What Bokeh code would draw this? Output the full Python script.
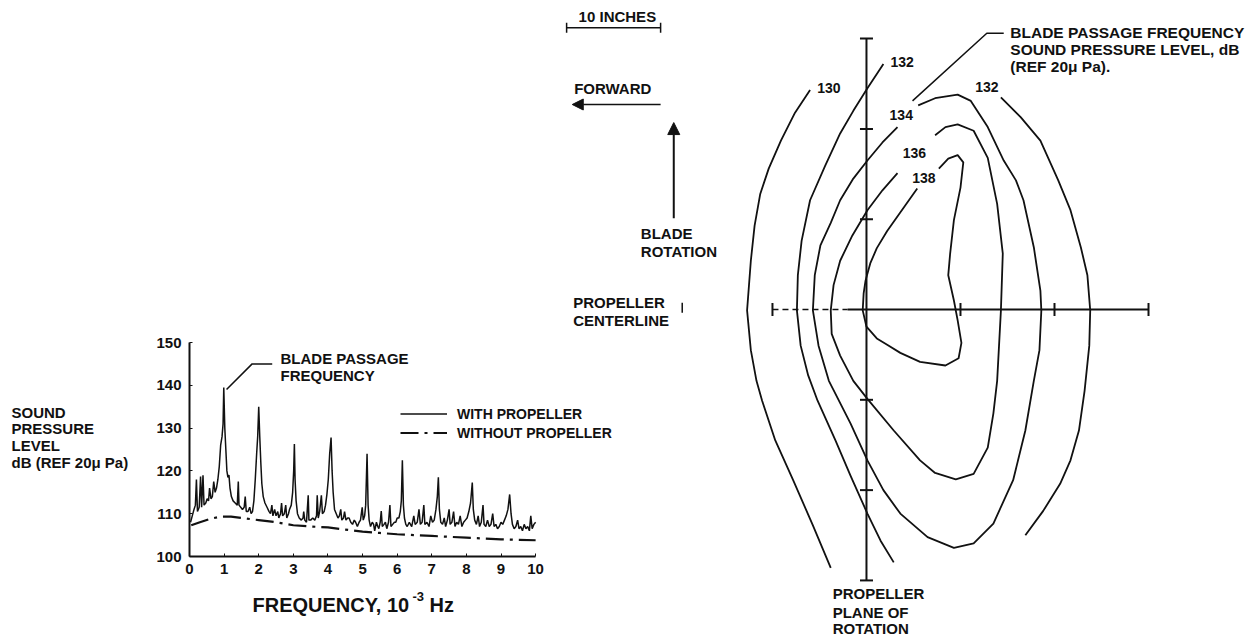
import math
from bokeh.plotting import figure
from bokeh.models import (Range1d, Label, Legend, LegendItem, Arrow, NormalHead,
                          ColumnDataSource, FixedTicker)
from bokeh.layouts import row, column
from bokeh.core.properties import value
from bokeh.embed import file_html
from bokeh.resources import INLINE

FONT = "Liberation Sans"
INK = "#111111"

# ---------------- spectrum (left panel) ----------------
x_ticks = [0, 1, 2, 3, 4, 5, 6, 7, 8, 9, 10]
y_ticks = [100, 110, 120, 130, 140, 150]

# (frequency 10^-3 Hz, SPL dB)
with_propeller = [
    (0.03, 108.0), (0.08, 109.5), (0.13, 111.0), (0.17, 112.0), (0.20, 118.0), (0.23, 110.5),
    (0.28, 111.5), (0.32, 118.7), (0.35, 111.5), (0.39, 119.0), (0.42, 112.0), (0.47, 112.5),
    (0.51, 113.5), (0.55, 113.0), (0.58, 116.0), (0.62, 113.5), (0.66, 114.0), (0.70, 117.5),
    (0.74, 115.0), (0.78, 116.0), (0.82, 118.0), (0.86, 121.0), (0.90, 126.0), (0.94, 128.0),
    (0.97, 131.0), (0.99, 139.5), (1.02, 130.0), (1.05, 125.0), (1.08, 120.0), (1.11, 118.5),
    (1.14, 119.0), (1.17, 116.0), (1.21, 114.0), (1.26, 113.0), (1.32, 112.5), (1.38, 112.0),
    (1.41, 117.5), (1.43, 112.0), (1.48, 111.5), (1.53, 111.0), (1.58, 111.5), (1.61, 114.0),
    (1.64, 110.5), (1.69, 110.5), (1.74, 111.5), (1.78, 110.0), (1.82, 110.5), (1.86, 113.0),
    (1.90, 118.0), (1.94, 124.0), (1.97, 128.0), (2.00, 135.0), (2.03, 128.0), (2.06, 122.0),
    (2.09, 117.0), (2.13, 114.0), (2.18, 112.5), (2.24, 111.5), (2.30, 110.5), (2.34, 110.0),
    (2.38, 112.0), (2.41, 109.5), (2.46, 111.0), (2.50, 109.5), (2.55, 110.5), (2.58, 109.0),
    (2.63, 110.0), (2.66, 112.5), (2.69, 109.5), (2.74, 110.0), (2.78, 112.0), (2.81, 109.0),
    (2.86, 110.0), (2.89, 111.0), (2.94, 112.0), (2.98, 115.0), (3.01, 120.0), (3.03, 126.3),
    (3.05, 118.0), (3.08, 113.0), (3.12, 110.0), (3.17, 109.0), (3.23, 108.5), (3.28, 109.0),
    (3.30, 110.5), (3.33, 108.5), (3.38, 108.0), (3.43, 114.3), (3.45, 108.5), (3.50, 108.5),
    (3.56, 109.0), (3.62, 108.5), (3.67, 109.5), (3.69, 114.3), (3.72, 109.0), (3.76, 110.5),
    (3.81, 114.3), (3.84, 110.0), (3.89, 110.5), (3.93, 112.0), (3.97, 114.5), (4.01, 118.0),
    (4.05, 124.0), (4.09, 127.8), (4.12, 120.0), (4.15, 115.0), (4.19, 111.0), (4.24, 110.0),
    (4.29, 109.0), (4.33, 109.5), (4.37, 111.0), (4.40, 108.5), (4.45, 109.0), (4.48, 110.5),
    (4.52, 108.5), (4.57, 109.0), (4.61, 109.0), (4.66, 108.0), (4.71, 107.5), (4.76, 108.5),
    (4.80, 108.0), (4.85, 107.0), (4.90, 108.0), (4.94, 108.5), (4.99, 111.5), (5.02, 108.5),
    (5.06, 109.5), (5.09, 112.0), (5.13, 124.0), (5.16, 112.0), (5.19, 108.5), (5.23, 107.0),
    (5.28, 108.0), (5.32, 107.5), (5.35, 106.0), (5.40, 108.0), (5.44, 107.0), (5.47, 106.5),
    (5.51, 108.0), (5.54, 110.6), (5.57, 107.0), (5.62, 107.5), (5.66, 108.0), (5.70, 106.5),
    (5.75, 108.0), (5.79, 112.0), (5.82, 107.0), (5.87, 107.5), (5.92, 108.0), (5.96, 108.0),
    (6.00, 109.0), (6.05, 109.0), (6.09, 110.5), (6.12, 113.0), (6.15, 122.5), (6.18, 112.0),
    (6.21, 109.0), (6.25, 107.5), (6.29, 107.0), (6.35, 108.0), (6.42, 107.0), (6.48, 109.5),
    (6.52, 107.5), (6.58, 108.0), (6.63, 111.0), (6.67, 107.5), (6.72, 108.0), (6.77, 112.0),
    (6.80, 107.5), (6.86, 108.0), (6.92, 107.0), (6.97, 109.5), (7.02, 108.0), (7.07, 108.5),
    (7.12, 111.0), (7.16, 114.0), (7.19, 118.5), (7.22, 111.0), (7.26, 108.0), (7.31, 107.5),
    (7.36, 109.0), (7.40, 107.0), (7.45, 108.5), (7.50, 111.0), (7.53, 107.5), (7.58, 108.0),
    (7.63, 110.5), (7.67, 107.0), (7.72, 108.0), (7.77, 107.5), (7.82, 109.5), (7.87, 107.0),
    (7.92, 108.0), (7.97, 108.5), (8.02, 109.0), (8.07, 110.5), (8.12, 112.5), (8.17, 117.3),
    (8.20, 111.0), (8.24, 108.5), (8.29, 107.5), (8.34, 109.5), (8.38, 107.0), (8.43, 108.0),
    (8.48, 112.0), (8.51, 107.5), (8.56, 107.0), (8.61, 108.5), (8.66, 107.0), (8.71, 107.5),
    (8.76, 110.0), (8.80, 107.0), (8.85, 107.5), (8.90, 106.5), (8.95, 107.0), (9.00, 108.0),
    (9.05, 107.5), (9.10, 108.5), (9.15, 109.5), (9.20, 111.0), (9.25, 114.5), (9.29, 110.0),
    (9.33, 107.5), (9.38, 106.5), (9.43, 107.0), (9.48, 108.5), (9.52, 106.5), (9.57, 107.0),
    (9.62, 106.0), (9.67, 107.5), (9.72, 106.5), (9.77, 107.0), (9.82, 106.0), (9.86, 109.5),
    (9.90, 106.5), (9.95, 107.5), (10.0, 108.0),
]
without_propeller = [
    (0.05, 107.3), (0.3, 108.0), (0.6, 108.8), (0.9, 109.3), (1.2, 109.3), (1.5, 109.0),
    (2.0, 108.5), (2.5, 108.0), (3.0, 107.3), (3.5, 107.0), (4.0, 106.8), (4.5, 106.3),
    (5.0, 105.8), (5.5, 105.5), (6.0, 105.2), (6.5, 105.0), (7.0, 104.8), (7.5, 104.6),
    (8.0, 104.4), (8.5, 104.2), (9.0, 104.0), (9.5, 103.9), (10.0, 103.8),
]
# leader of the "BLADE PASSAGE FREQUENCY" note (freq, dB)
bpf_leader_f = [1.07, 1.81, 2.39]
bpf_leader_db = [139.0, 145.0, 145.0]

# ---------------- contour map (right panel), inches ----------------
c130_x = [-6.0, -7.6, -9.1, -10.4, -11.3, -11.9, -12.3, -12.7, -12.3, -11.7, -11.1, -9.7, -7.8, -5.7, -3.8]
c130_y = [24.3, 21.8, 18.7, 15.6, 12.8, 9.3, 5.4, -0.1, -4.5, -7.9, -10.1, -14.5, -18.9, -23.9, -28.6]

c132a_x = [1.8, 0.1, -1.4, -2.8, -4.4, -6.0, -6.9, -7.3, -7.4, -7.0, -6.2, -5.2, -3.3, -1.7, 0.1, 1.5, 2.9]
c132a_y = [27.2, 24.5, 22.0, 19.5, 15.9, 12.1, 7.6, 3.8, -0.1, -4.0, -7.3, -10.1, -14.5, -18.4, -22.6, -25.6, -28.0]

c132b_x = [14.3, 16.4, 18.5, 20.4, 21.7, 22.8, 23.5, 23.8, 23.7, 23.2, 22.6, 21.7, 20.6, 18.8, 16.9]
c132b_y = [23.5, 21.3, 18.7, 14.3, 11.0, 6.9, 3.8, -0.1, -4.0, -9.0, -13.4, -16.7, -19.3, -22.3, -25.0]

c134_x = [5.5, 7.3, 9.7, 11.1, 12.9, 14.6, 15.9, 16.7, 17.8, 18.5, 18.6, 18.4, 17.8, 16.9, 15.6, 13.5,
          11.4, 9.3, 6.5, 3.6, 1.8, 0.1, -1.7, -4.0, -5.1, -5.7, -5.5, -4.9, -3.8, -2.8, -1.4, 0.1, 1.7, 3.3]
c134_y = [22.6, 23.4, 23.8, 23.1, 20.2, 16.5, 14.3, 12.1, 6.9, 2.1, -0.1, -4.5, -7.9, -13.4, -18.9, -23.7,
          -25.9, -26.4, -25.2, -22.6, -20.0, -16.7, -12.6, -7.9, -4.0, -0.1, 3.8, 7.1, 9.6, 12.1, 14.5, 16.5, 18.5, 20.2]

c136_x = [7.3, 8.4, 9.7, 11.4, 12.9, 13.9, 14.5, 14.3, 13.9, 13.5, 12.9, 11.4, 9.5, 7.3, 5.7, 2.9, 0.1,
          -1.4, -2.8, -3.7, -3.8, -3.5, -2.8, -1.5, 0.1, 1.7, 3.3]
c136_y = [19.3, 20.2, 20.5, 19.8, 16.8, 11.7, 6.2, -0.1, -7.9, -11.5, -15.3, -18.2, -18.8, -18.1, -16.7, -13.4,
          -9.9, -7.9, -5.1, -2.7, -0.1, 2.7, 5.4, 8.2, 11.0, 13.2, 15.1]

c138_x = [5.4, 4.1, 2.2, 1.1, 0.4, -0.1, -0.3, -0.4, 0.0, 1.1, 2.2, 3.6, 5.7, 8.4, 9.8, 10.1, 9.7, 9.3,
          8.7, 8.9, 9.3, 10.0, 10.3, 9.7, 8.7, 7.7]
c138_y = [13.4, 11.5, 8.7, 6.8, 5.1, 3.2, 1.8, -0.1, -1.9, -3.2, -3.9, -4.8, -5.8, -6.2, -5.4, -3.7, -1.2, 1.0,
          3.8, 6.2, 9.9, 13.5, 16.3, 17.1, 16.7, 15.6]

level_labels = ["130", "132", "132", "134", "136", "138"]
level_label_x = [-4.0, 3.8, 12.8, 3.7, 5.1, 6.1]
level_label_y = [24.5, 27.4, 24.6, 21.5, 17.3, 14.6]

plane_ticks = [-30, -20, -10, 10, 20, 30]        # along the plane of rotation (inches)
centerline_ticks = [-10, 10, 20, 30]             # along the propeller centerline (inches)
scale_bar_x = [-31.9, -21.9]                     # 10 inches
note_leader_x = [4.9, 12.8, 14.6]
note_leader_y = [23.1, 30.6, 30.6]


def txt(p, x, y, s, size="15px", align="left", units="data"):
    p.add_layout(Label(x=x, y=y, x_units=units, y_units=units, text=s, text_font=FONT,
                       text_font_size=size, text_font_style="bold", text_color=INK,
                       text_align=align, text_baseline="middle"))


def blank(w, h, xr=(0, 1), yr=(0, 1)):
    p = figure(width=w, height=h, x_range=Range1d(*xr), y_range=Range1d(*yr),
               x_axis_type=None, y_axis_type=None, min_border=0, toolbar_location=None,
               output_backend="svg", frame_align=False)
    p.outline_line_color = None
    return p


# ---------- left spectrum figure ----------
spec = figure(width=595, height=260, x_range=Range1d(0, 13.03), y_range=Range1d(100, 150),
              min_border_left=44, min_border_right=100, min_border_top=12, min_border_bottom=34,
              toolbar_location=None, output_backend="svg", frame_align=False)
spec.outline_line_color = None
spec.xgrid.grid_line_color = None
spec.ygrid.grid_line_color = None
wf, wd = zip(*with_propeller)
nf, nd = zip(*without_propeller)
r_with = spec.line(list(wf), list(wd), line_color=INK, line_width=1.5)
r_without = spec.line(list(nf), list(nd), line_color=INK, line_width=2.2, line_dash="18 6 3 6")
spec.xaxis.ticker = FixedTicker(ticks=x_ticks)
spec.yaxis.ticker = FixedTicker(ticks=y_ticks)
spec.xaxis.bounds = (x_ticks[0], x_ticks[-1])
spec.axis.axis_line_width = 2
spec.axis.axis_line_color = INK
spec.axis.major_tick_in = 3
spec.axis.major_tick_out = 0
spec.axis.major_tick_line_color = INK
spec.axis.minor_tick_line_color = None
spec.axis.major_label_text_font = FONT
spec.axis.major_label_text_font_size = "15px"
spec.axis.major_label_text_font_style = "bold"
spec.axis.major_label_text_color = INK
spec.xaxis.major_label_standoff = 7
spec.yaxis.major_label_standoff = 8

spec.line(bpf_leader_f, bpf_leader_db, line_color=INK, line_width=1.5)
txt(spec, 2.63, 146.2, "BLADE PASSAGE")
txt(spec, 2.63, 142.3, "FREQUENCY")

legend = Legend(items=[LegendItem(label="WITH PROPELLER", renderers=[r_with]),
                       LegendItem(label="WITHOUT PROPELLER", renderers=[r_without])],
                location=(211, 114), orientation="vertical", border_line_color=None,
                background_fill_alpha=0, padding=0, margin=0, spacing=0,
                glyph_width=47, glyph_height=19, label_height=19, label_standoff=10,
                label_text_font=FONT, label_text_font_size="14px",
                label_text_font_style="bold", label_text_color=INK)
spec.add_layout(legend)

# y-axis title (left of the spectrum)
ytitle = blank(145, 306)
for i, s in enumerate(["SOUND", "PRESSURE", "LEVEL", "dB (REF  20\u03bc Pa)"]):
    txt(ytitle, 11, 224.3 - 16.7 * i, s, units="screen")

# x-axis title (below the spectrum)
xtitle = blank(595, 46)
txt(xtitle, 107, 32, "FREQUENCY, 10", size="20px", units="screen")
txt(xtitle, 267, 40, "-3", size="13px", units="screen")
txt(xtitle, 284, 32, "Hz", size="20px", units="screen")

# ---------- top-middle notes (inches, same frame as the map) ----------
top = blank(740, 330, (-92.13, -13.40), (-2.33, 34.22))
top.line(scale_bar_x, [31.2, 31.2], line_color=INK, line_width=1.5)
top.scatter(scale_bar_x, [31.2, 31.2], marker="dash", size=10, angle=math.pi / 2,
            line_color=INK, line_width=1.5)
txt(top, -26.5, 32.4, "10 INCHES", align="center")
txt(top, -31.1, 24.5, "FORWARD")
top.add_layout(Arrow(end=NormalHead(size=11, fill_color=INK, line_color=INK),
                     x_start=-21.9, y_start=22.7, x_end=-31.3, y_end=22.7,
                     line_color=INK, line_width=1.5))
top.add_layout(Arrow(end=NormalHead(size=12, fill_color=INK, line_color=INK),
                     x_start=-20.5, y_start=10.1, x_end=-20.5, y_end=20.7,
                     line_color=INK, line_width=2))
txt(top, -24.0, 8.4, "BLADE")
txt(top, -24.0, 6.4, "ROTATION")
txt(top, -31.2, 0.8, "PROPELLER")
txt(top, -31.2, -1.2, "CENTERLINE")
top.scatter([-19.6], [0.2], marker="dash", size=10, angle=math.pi / 2, line_color=INK, line_width=1.5)

# ---------- right contour map ----------
cmap = blank(518, 636, (-13.40, 41.70), (-36.21, 34.22))
cmap.line([0, 0], [plane_ticks[0], plane_ticks[-1]], line_color=INK, line_width=2)
cmap.scatter([0] * len(plane_ticks), plane_ticks, marker="dash", size=13, line_color=INK, line_width=2)
cmap.line([centerline_ticks[0], -2], [0, 0], line_color=INK, line_width=1.5, line_dash="6 4")
cmap.line([-2, centerline_ticks[-1]], [0, 0], line_color=INK, line_width=1.8)
cmap.scatter(centerline_ticks, [0] * len(centerline_ticks), marker="dash", size=13,
             angle=math.pi / 2, line_color=INK, line_width=2)
for cx, cy in [(c130_x, c130_y), (c132a_x, c132a_y), (c132b_x, c132b_y),
               (c134_x, c134_y), (c136_x, c136_y), (c138_x, c138_y)]:
    cmap.line(cx, cy, line_color=INK, line_width=1.8, line_join="round")
lab_src = ColumnDataSource(dict(x=level_label_x, y=level_label_y, t=level_labels))
cmap.text("x", "y", text="t", source=lab_src, text_font=value(FONT), text_font_size="14px",
          text_font_style="bold", text_color=INK, text_align="center", text_baseline="middle")
cmap.line(note_leader_x, note_leader_y, line_color=INK, line_width=1.5)
txt(cmap, 15.3, 30.7, "BLADE PASSAGE FREQUENCY", size="15.5px")
txt(cmap, 15.3, 28.8, "SOUND PRESSURE LEVEL, dB", size="15.5px")
txt(cmap, 15.3, 26.9, "(REF  20\u03bc Pa).", size="15.5px")
txt(cmap, -3.6, -31.45, "PROPELLER")
txt(cmap, -3.6, -33.52, "PLANE OF")
txt(cmap, -3.6, -35.3, "ROTATION")

layout = row(column(top, row(ytitle, column(spec, xtitle))), cmap)
open("out.html", "w").write(file_html(layout, INLINE))
